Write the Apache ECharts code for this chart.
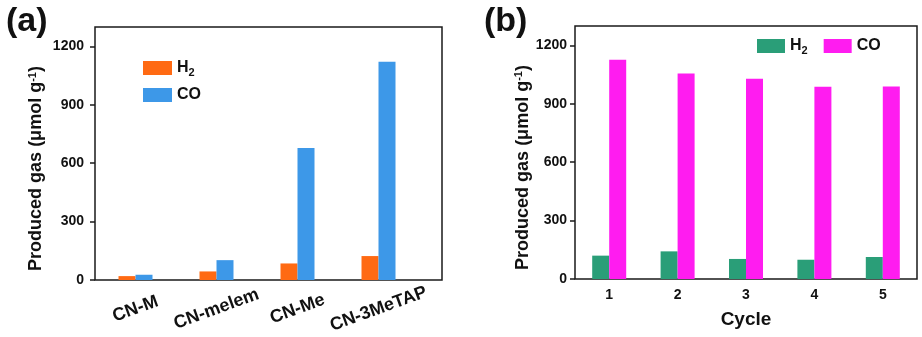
<!DOCTYPE html>
<html><head><meta charset="utf-8">
<script src="https://cdn.jsdelivr.net/npm/echarts@6/dist/echarts.min.js"></script>
<style>html,body{margin:0;padding:0;background:#fff}#c{width:922px;height:337px}</style>
</head><body><div id="c"></div>
<script>
const catsA = ['CN-M', 'CN-melem', 'CN-Me', 'CN-3MeTAP'];
const h2A = [20, 44, 85, 123];
const coA = [27, 102, 678, 1121];
const catsB = ['1', '2', '3', '4', '5'];
const h2B = [120, 142, 103, 99, 113];
const coB = [1126, 1056, 1029, 988, 989];
const yTicks = [0, 300, 600, 900, 1200];
const yMax = 1300;

const FF = '"Liberation Sans", Arial, sans-serif';
const frameColor = '#1a1a1a';
const chart = echarts.init(document.getElementById('c'), null, {renderer: 'canvas'});

const yName = 'Produced gas (μmol g{sup|-1})';
const yNameStyle = {fontFamily: FF, fontWeight: 'bold', fontSize: 18, color: '#111', padding: [0, 30, 0, 0],
  rich: {sup: {fontFamily: FF, fontWeight: 'bold', fontSize: 11, color: '#111', verticalAlign: 'top', padding: [0, 0, 8, 0]}}};

function yAxis(gridIndex, nameGap, margin) {
  return {type: 'value', gridIndex, min: 0, max: yMax,
    name: yName, nameLocation: 'middle', nameGap, nameTextStyle: yNameStyle,
    axisLine: {show: false},
    axisTick: {show: true, inside: false, length: 5, customValues: yTicks, lineStyle: {color: frameColor, width: 1.5}},
    axisLabel: {customValues: yTicks, formatter: v => String(v), fontFamily: FF, fontWeight: 'bold', fontSize: 14, color: '#111', margin},
    splitLine: {show: false}};
}
const hidden = (type, gridIndex) => ({type, gridIndex, show: false, min: 0, max: 1});

const legendFmt = n => n.charAt(0) === 'H' ? '{n|H}{s|2}' : '{n|CO}';
const legendText = {fontFamily: FF, fontWeight: 'bold', fontSize: 16, color: '#111',
  rich: {n: {fontFamily: FF, fontWeight: 'bold', fontSize: 16, color: '#111'},
         s: {fontFamily: FF, fontWeight: 'bold', fontSize: 11, color: '#111', padding: [9, 0, 0, 0]}}};

chart.setOption({
  animation: false,
  backgroundColor: '#fff',
  title: [
    {text: '(a)', left: 1, top: 0, textStyle: {fontFamily: FF, fontWeight: 'bold', fontSize: 34, color: '#111'}},
    {text: '(b)', left: 479, top: 0, textStyle: {fontFamily: FF, fontWeight: 'bold', fontSize: 34, color: '#111'}}
  ],
  grid: [
    {left: 95, top: 27, width: 324, height: 253},
    {left: 95, top: 27, width: 347, height: 253, show: true, borderColor: frameColor, borderWidth: 1.5, backgroundColor: 'transparent'},
    {left: 575, top: 26, width: 342, height: 253, show: true, borderColor: frameColor, borderWidth: 1.5, backgroundColor: 'transparent'}
  ],
  xAxis: [
    {type: 'category', gridIndex: 0, data: catsA, axisLine: {show: false}, axisTick: {show: false},
     axisLabel: {rotate: 20, align: 'center', verticalAlign: 'middle', margin: 29, fontFamily: FF, fontWeight: 'bold', fontSize: 18, color: '#111', interval: 0}},
    hidden('value', 1),
    {type: 'category', gridIndex: 2, data: catsB, axisLine: {show: false}, axisTick: {show: false},
     name: 'Cycle', nameLocation: 'middle', nameGap: 31,
     nameTextStyle: {fontFamily: FF, fontWeight: 'bold', fontSize: 19, color: '#111'},
     axisLabel: {margin: 9, fontFamily: FF, fontWeight: 'bold', fontSize: 14, color: '#111'}}
  ],
  yAxis: [yAxis(0, 49, 11), hidden('value', 1), yAxis(2, 39, 8)],
  legend: [
    {data: ['H2', 'CO'], orient: 'vertical', left: 138, top: 55, itemWidth: 29, itemHeight: 14, itemGap: 9,
     icon: 'rect', formatter: legendFmt, textStyle: legendText, selectedMode: false},
    {data: ['H2 b', 'CO b'], orient: 'horizontal', left: 752, top: 33, itemWidth: 28, itemHeight: 14, itemGap: 16,
     icon: 'rect', formatter: legendFmt, textStyle: legendText, selectedMode: false}
  ],
  series: [
    {name: 'H2', type: 'bar', xAxisIndex: 0, yAxisIndex: 0, data: h2A, barWidth: 17, barGap: '0%', itemStyle: {color: '#FF6A13'}},
    {name: 'CO', type: 'bar', xAxisIndex: 0, yAxisIndex: 0, data: coA, barWidth: 17, barGap: '0%', itemStyle: {color: '#3D98E8'}},
    {name: 'H2 b', type: 'bar', xAxisIndex: 2, yAxisIndex: 2, data: h2B, barWidth: 17, barGap: '0%', itemStyle: {color: '#2A9E78'}},
    {name: 'CO b', type: 'bar', xAxisIndex: 2, yAxisIndex: 2, data: coB, barWidth: 17, barGap: '0%', itemStyle: {color: '#FF1CF0'}}
  ]
});
</script></body></html>
